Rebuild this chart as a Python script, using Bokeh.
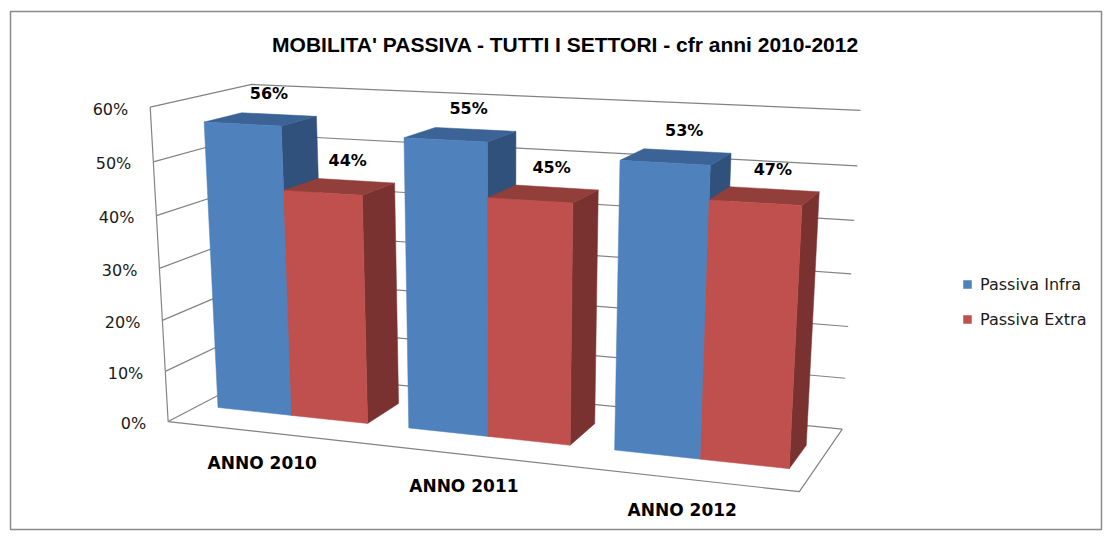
import numpy as np
from bokeh.plotting import figure
from bokeh.models import Range1d, Legend, LegendItem, ColumnDataSource
from bokeh.embed import file_html
from bokeh.resources import INLINE
from bokeh.core.properties import value

title = "MOBILITA' PASSIVA - TUTTI I SETTORI - cfr anni 2010-2012"
categories = ["ANNO 2010", "ANNO 2011", "ANNO 2012"]
series_names = ["Passiva Infra", "Passiva Extra"]
infra = [0.56, 0.55, 0.53]
extra = [0.44, 0.45, 0.47]
y_ticks = [0.0, 0.1, 0.2, 0.3, 0.4, 0.5, 0.6]
y_tick_labels = ["0%", "10%", "20%", "30%", "40%", "50%", "60%"]

# ---- 3D view (perspective camera: category axis, value axis, depth) ----
CAM = np.array([
    [180.379067, -42.513218, 121.161609, 167.645892],
    [4.90729154, -533.093024, -13.2315444, 421.073301],
    [-0.0375810554, -0.0842270077, 0.0986679798, 1.0],
])
gap, bw, zf, zb = 0.104218109, 0.395263581, 0.302822463, 0.679478585

def proj(X, Y, Z):
    h = CAM @ np.array([X, Y, Z, 1.0])
    return h[0] / h[2], h[1] / h[2]

# ---- figure -------------------------------------------------------------
p = figure(width=1103, height=531, x_range=Range1d(10, 1101), y_range=Range1d(529, 11),
           output_backend="svg", toolbar_location=None, min_border_left=10, min_border_right=2,
           min_border_top=11, min_border_bottom=2)
p.axis.visible = False
p.grid.visible = False
p.outline_line_color = "#8a8a8a"
p.outline_line_width = 1.5

ncat = len(categories)
ymax = y_ticks[-1]
gx, gy = [], []
for v in y_ticks:
    pts = [proj(0, v, 0), proj(0, v, 1), proj(ncat, v, 1)]
    gx.append([a for a, b in pts]); gy.append([b for a, b in pts])
pts = [proj(0, ymax, 0), proj(0, 0, 0), proj(ncat, 0, 0), proj(ncat, 0, 1)]
gx.append([a for a, b in pts]); gy.append([b for a, b in pts])
p.multi_line(gx, gy, line_color="#838383", line_width=1.2)

colors = [("#4F81BD", "#3C6396", "#30517C"), ("#C0504D", "#923E3B", "#7A3230")]
fx, fy, fc = [], [], []
front_index = {}
for i in range(ncat):
    for s, vals in enumerate([infra, extra]):
        v = vals[i]
        x0 = i + gap + s * bw; x1 = x0 + bw
        faces = [
            ([(x1, 0, zf), (x1, 0, zb), (x1, v, zb), (x1, v, zf)], colors[s][2]),
            ([(x0, v, zf), (x1, v, zf), (x1, v, zb), (x0, v, zb)], colors[s][1]),
            ([(x0, 0, zf), (x1, 0, zf), (x1, v, zf), (x0, v, zf)], colors[s][0]),
        ]
        for k, (poly, c) in enumerate(faces):
            pp = [proj(*pt) for pt in poly]
            fx.append([a for a, b in pp]); fy.append([b for a, b in pp]); fc.append(c)
            if k == 2 and s not in front_index:
                front_index[s] = len(fc) - 1
bars = p.patches(xs="xs", ys="ys", fill_color="color", line_color="color", line_width=0.5,
                 source=ColumnDataSource(dict(xs=fx, ys=fy, color=fc)))

# data labels
lx, ly, lt = [], [], []
for i in range(ncat):
    for s, vals in enumerate([infra, extra]):
        v = vals[i]
        xc = i + gap + s * bw + bw / 2
        a, b = proj(xc, v, (zf + zb) / 2)
        lx.append(a + 8); ly.append(b - 26); lt.append(f"{round(v*100)}%")
p.text(x="x", y="y", text="t", source=ColumnDataSource(dict(x=lx, y=ly, t=lt)),
       text_font=value("DejaVu Sans"), text_font_style="bold", text_font_size="16px",
       text_align="center", text_baseline="middle", text_color="#000000")

# y tick labels
tx, ty = [], []
for v in y_ticks:
    a, b = proj(0, v, 0)
    tx.append(a - 22); ty.append(b + 2)
p.text(x="x", y="y", text="t", source=ColumnDataSource(dict(x=tx, y=ty, t=y_tick_labels)),
       text_font=value("DejaVu Sans"), text_font_size="16px",
       text_align="right", text_baseline="middle", text_color="#1a1a1a")

# category labels
cx, cy = [], []
for i in range(ncat):
    a, b = proj(i + 0.5, 0, 0)
    cx.append(a - 1); cy.append(b + 31)
p.text(x="x", y="y", text="t", source=ColumnDataSource(dict(x=cx, y=cy, t=categories)),
       text_font=value("DejaVu Sans"), text_font_style="bold", text_font_size="17px",
       text_align="center", text_baseline="middle", text_color="#000000")

# title
p.text(x=[565], y=[44], text=[title], text_font=value("Liberation Sans"), text_font_style="bold",
       text_font_size="21px", text_align="center", text_baseline="middle", text_color="#000000")

legend = Legend(items=[LegendItem(label=series_names[s], renderers=[bars], index=front_index[s]) for s in range(2)],
                location=(952, 200), padding=0, margin=0, spacing=15, label_height=20,
                glyph_width=10, glyph_height=10, label_standoff=8, border_line_color=None,
                background_fill_alpha=0, label_text_font="DejaVu Sans", label_text_font_size="16px",
                label_text_color="#1a1a1a")
p.add_layout(legend)

open("out.html", "w").write(file_html(p, INLINE))
